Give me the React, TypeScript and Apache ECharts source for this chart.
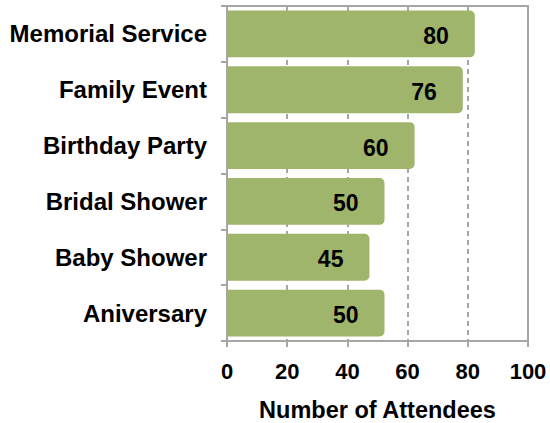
import React, { useEffect, useRef } from "react";
import * as echarts from "echarts";

const categories = ["Memorial Service", "Family Event", "Birthday Party", "Bridal Shower", "Baby Shower", "Aniversary"];
const values = [80, 76, 60, 50, 45, 50];
const xTicks = [0, 20, 40, 60, 80, 100];
const axisTitle = "Number of Attendees";

const FONT = "'Liberation Sans', Arial, Helvetica, sans-serif";
const GRAY = "#A6A6A6";
const BAR = "#9FB56C";

export default function App() {
  const ref = useRef<HTMLDivElement>(null);
  useEffect(() => {
    if (!ref.current) return;
    const chart = echarts.init(ref.current, null, { renderer: "svg" });
    chart.setOption({
      animation: false,
      backgroundColor: "#ffffff",
      grid: {
        left: 227, right: 22, top: 6, bottom: 82,
        outerBoundsMode: "none", containLabel: false,
        show: true, borderColor: GRAY, borderWidth: 2, backgroundColor: "transparent",
      },
      xAxis: {
        type: "value",
        min: xTicks[0],
        max: xTicks[xTicks.length - 1],
        interval: 20,
        name: axisTitle,
        nameLocation: "middle",
        nameGap: 57,
        nameTextStyle: { color: "#000", fontSize: 23.5, fontWeight: "bold", fontFamily: FONT },
        axisLine: { show: true, lineStyle: { color: GRAY, width: 2 } },
        axisTick: { show: true, length: 6, lineStyle: { color: GRAY, width: 2 } },
        splitLine: { show: true, lineStyle: { color: GRAY, width: 2, type: [5, 4] } },
        axisLabel: { color: "#000", fontSize: 22, fontWeight: "bold", fontFamily: FONT, margin: 19 },
      },
      yAxis: {
        type: "category",
        data: categories,
        inverse: true,
        axisLine: { show: true, lineStyle: { color: GRAY, width: 2 } },
        axisTick: { show: true, length: 6, lineStyle: { color: GRAY, width: 2 } },
        axisLabel: { color: "#000", fontSize: 24, fontWeight: "bold", fontFamily: FONT, margin: 20, padding: [4, 0, 0, 0] },
      },
      series: [
        {
          type: "custom",
          encode: { x: 0, y: 1 },
          data: values.map((v, i) => [v, i]),
          renderItem: (params: any, api: any) => {
            const v = api.value(0);
            const idx = api.value(1);
            const start = api.coord([0, idx]);
            const end = api.coord([v, idx]);
            const band = api.size([0, 1])[1];
            const h = band * 0.84;
            const right = end[0] + 7;
            return {
              type: "group",
              children: [
                {
                  type: "rect",
                  shape: { x: start[0], y: start[1] - h / 2, width: right - start[0], height: h, r: [0, 5, 5, 0] },
                  style: { fill: BAR },
                },
                {
                  type: "text",
                  x: right - 26,
                  y: start[1] + 2,
                  style: {
                    text: String(v),
                    align: "right",
                    verticalAlign: "middle",
                    fill: "#000",
                    font: `bold 23px ${FONT}`,
                  },
                },
              ],
            };
          },
        },
      ],
    });
    return () => chart.dispose();
  }, []);
  return <div ref={ref} style={{ position: "fixed", left: 0, top: 0, width: 550, height: 423 }} />;
}
